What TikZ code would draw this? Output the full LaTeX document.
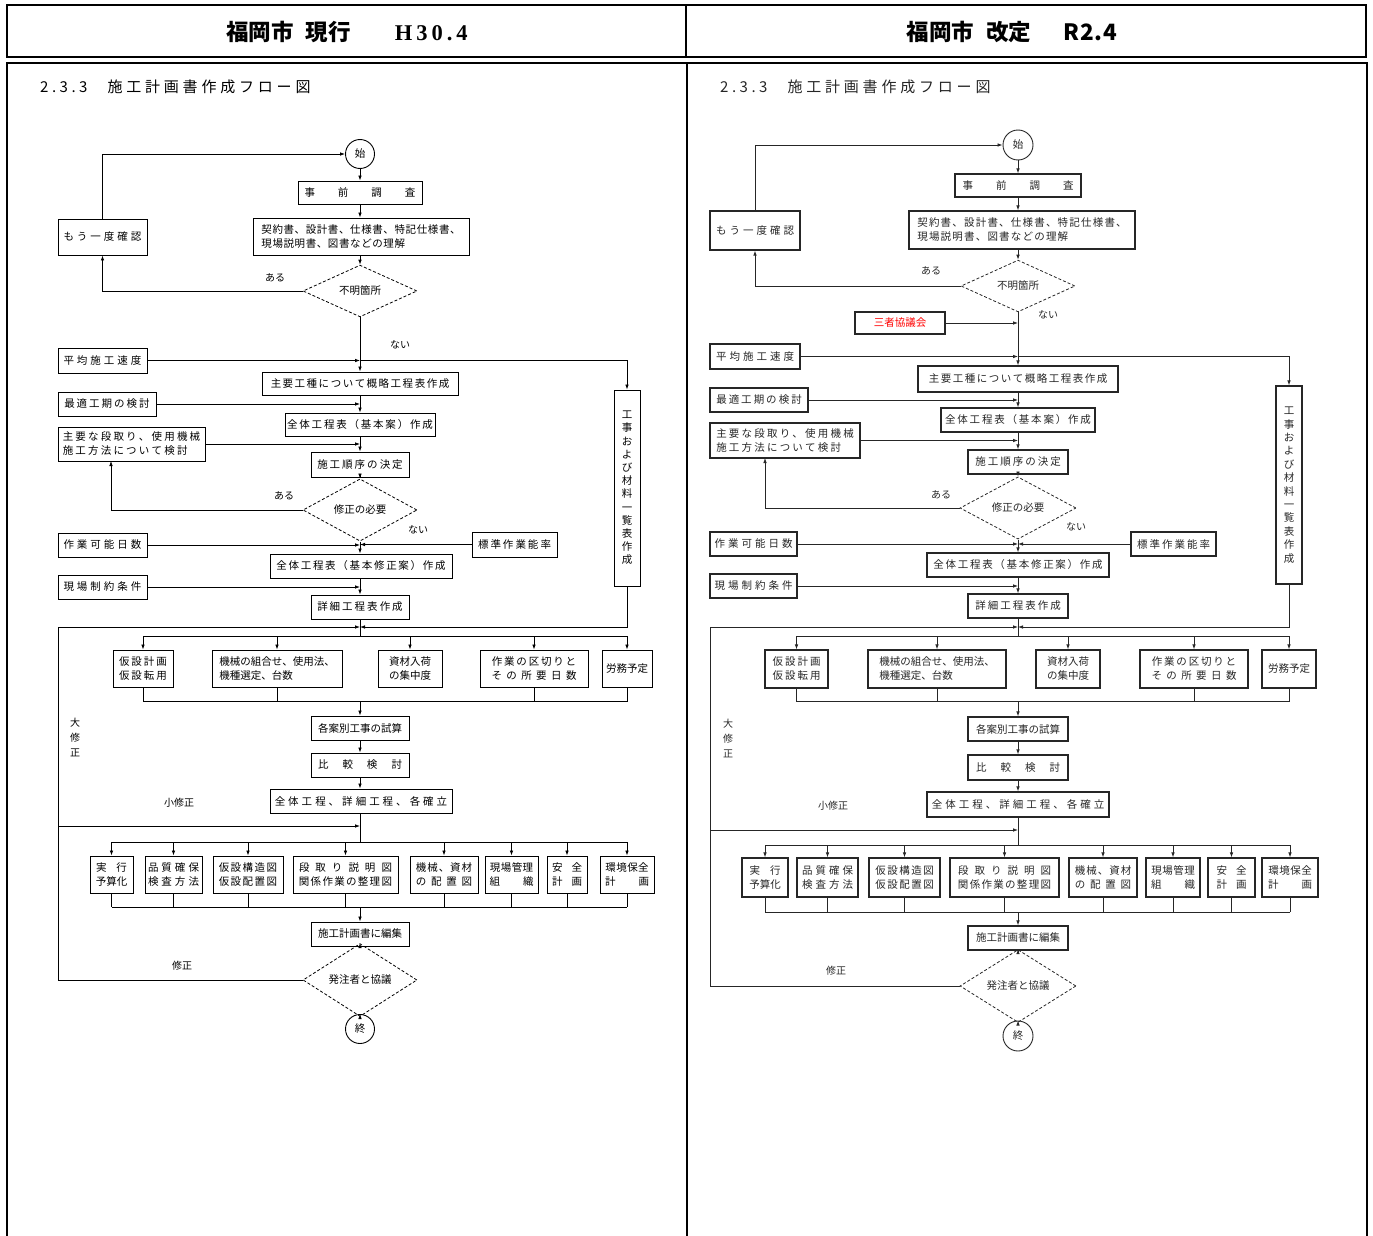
\documentclass[tikz,border=0pt]{standalone}
\usepackage{fontspec}
\newfontfamily\jp{Noto Sans CJK JP}
\newfontfamily\hdserif{Liberation Serif}
\usetikzlibrary{arrows.meta,shapes.geometric}
\makeatletter
\def\ls#1#2{\def\ls@gap{#1}\ls@aux#2\relax\unskip}
\def\ls@aux#1{\ifx\relax#1\else#1\hspace{\ls@gap}\expandafter\ls@aux\fi}
\makeatother
\newcommand\bx[7][]{\node[box,#1,minimum width={(#5-#3)*1pt},minimum height={(#6-#4)*1pt}] (#2) at ({(#3+#5)/2},{(#4+#6)/2}) {#7};}
\tikzset{
  box/.style={draw,line width=0.9pt,inner sep=0pt,align=center,font=\jp\fontsize{10.5}{14}\selectfont},
  dia/.style={draw,diamond,dash pattern=on 3pt off 2pt,line width=0.8pt,inner sep=0pt,minimum width=114pt,minimum height=44pt,font=\jp\fontsize{10.5}{13}\selectfont},
  circ/.style={draw,circle,line width=0.9pt,inner sep=0pt,minimum size=29pt,font=\jp\fontsize{10.5}{13}\selectfont},
  lab/.style={inner sep=0pt,font=\jp\fontsize{10}{15}\selectfont,align=center},
  arr/.style={-{Latex[length=5pt,width=3.6pt]},line width=0.8pt},
  ln/.style={line width=0.8pt},
  hd/.style={inner sep=0pt,font=\jp\bfseries\fontsize{22.5}{26}\selectfont},
  ttl/.style={anchor=west,inner sep=0pt,font=\jp\fontsize{15}{18}\selectfont},
  rside/.style={every node/.append style={text=black!85},box/.append style={line width=1.2pt,draw=black!85},black!85}
}
\begin{document}
\begin{tikzpicture}[x=1pt,y=-1pt]
\useasboundingbox (0,0) rectangle (1373,1236);
% frames
\draw[line width=2pt] (7,5) rectangle (1366,57);
\draw[line width=2pt] (686,5) -- (686,57);
\draw[line width=2pt] (7,1245) -- (7,63) -- (1367,63) -- (1367,1245);
\draw[line width=1.6pt] (687,63) -- (687,1245);
\node[hd] (H1) at (347,32) {福岡市\hspace{12pt}現行\hspace{44pt}{\hdserif\bfseries\ls{4pt}{H30.4}}};
\node[hd] (H2) at (1012,32) {福岡市\hspace{12pt}改定\hspace{32pt}\ls{1pt}{R2.4}};

%================ LEFT PANEL =================
\node[ttl] (Lt) at (40,87) {\ls{3.5pt}{2.3.3}\hspace{20pt}\ls{3.8pt}{施工計画書作成フロー図}};
\coordinate (Lm) at (360,0);
\node[circ] (Ls) at (360,154) {始};
\bx{Lpre}{298}{181}{422}{204}{\ls{23pt}{事前調査}}
\bx[align=left]{Lkei}{253}{218}{469}{255}{\ls{0.6pt}{契約書、設計書、仕様書、特記仕様書、}\\\ls{0.6pt}{現場説明書、図書などの理解}}
\bx{Lmou}{58}{219}{147}{255}{\ls{3pt}{もう一度確認}}
\node[dia] (Ld1) at (360,291) {不明箇所};
\bx{Lavg}{58}{348}{147}{373}{\ls{3pt}{平均施工速度}}
\bx{Lsyu}{262}{372}{458}{395}{\ls{1.5pt}{主要工種について概略工程表作成}}
\bx{Lsai}{58}{392}{156}{416}{\ls{2pt}{最適工期の検討}}
\bx{Lzen}{285}{413}{435}{436}{\ls{1.8pt}{全体工程表（基本案）作成}}
\bx[align=left]{Ldan}{58}{427}{205}{461}{\ls{2.2pt}{主要な段取り、使用機械}\\\ls{2.2pt}{施工方法について検討}}
\bx{Ljun}{311}{452}{409}{477}{\ls{2pt}{施工順序の決定}}
\node[dia,minimum height=46pt] (Ld2) at (360,510) {修正の必要};
\bx{Lsag}{58}{533}{147}{557}{\ls{3pt}{作業可能日数}}
\bx{Lhyo}{472}{532}{557}{557}{\ls{2pt}{標準作業能率}}
\bx{Lzsh}{270}{554}{452}{578}{\ls{1.7pt}{全体工程表（基本修正案）作成}}
\bx{Lgen}{58}{575}{147}{599}{\ls{3pt}{現場制約条件}}
\bx{Lsho}{311}{595}{409}{619}{\ls{2pt}{詳細工程表作成}}
\bx[font=\jp\fontsize{10.5}{13.2}\selectfont]{Lkoj}{614}{390}{640}{586}{工\\事\\お\\よ\\び\\材\\料\\一\\覧\\表\\作\\成}
\bx{La1}{113}{650}{173}{687}{\ls{2pt}{仮設計画}\\\ls{2pt}{仮設転用}}
\bx[align=left]{La2}{212}{650}{342}{687}{機械の組合せ、使用法、\\機種選定、台数}
\bx{La3}{378}{650}{442}{687}{資材入荷\\の集中度}
\bx{La4}{480}{650}{588}{687}{\ls{1.8pt}{作業の区切りと}\\\ls{4.4pt}{その所要日数}}
\bx{La5}{602}{650}{652}{687}{労務予定}
\bx{Lsis}{311}{716}{409}{740}{各案別工事の試算}
\bx{Lhik}{311}{753}{409}{777}{\ls{14pt}{比較検討}}
\bx{Lzsk}{270}{789}{452}{813}{\ls{3pt}{全体工程、詳細工程、各確立}}
\bx{Lc1}{90}{856}{133}{893}{\ls{10pt}{実行}\\予算化}
\bx{Lc2}{145}{856}{202}{893}{\ls{3pt}{品質確保}\\\ls{3pt}{検査方法}}
\bx{Lc3}{213}{856}{283}{893}{\ls{1.5pt}{仮設構造図}\\\ls{1.5pt}{仮設配置図}}
\bx{Lc4}{293}{856}{398}{893}{\ls{6pt}{段取り説明図}\\\ls{1.3pt}{関係作業の整理図}}
\bx{Lc5}{410}{856}{478}{893}{\ls{1pt}{機械、資材}\\\ls{4.8pt}{の配置図}}
\bx{Lc6}{485}{856}{538}{893}{\ls{0.5pt}{現場管理}\\\ls{23pt}{組織}}
\bx{Lc7}{547}{856}{587}{893}{\ls{9pt}{安全}\\\ls{9pt}{計画}}
\bx{Lc8}{600}{856}{654}{893}{\ls{0.5pt}{環境保全}\\\ls{23pt}{計画}}
\bx{Lhen}{311}{922}{409}{946}{施工計画書に編集}
\node[dia] (Ld3) at (360,980) {発注者と協議};
\node[circ] (Le) at (360,1029) {終};
\coordinate (LL) at (58,0);
\coordinate (Ldanin) at (111,461);
\coordinate (Lj1) at (360,627);
\coordinate (Lb1) at (360,636);
\coordinate (Lb2) at (360,701);
\coordinate (Lk) at (360,826);
\coordinate (Lb3) at (360,842);
\coordinate (Lb4) at (360,907);
% labels
\node[lab] (Ll1) at (275,278) {ある};
\node[lab] (Ll2) at (400,345) {ない};
\node[lab] (Ll3) at (284,496) {ある};
\node[lab] (Ll4) at (418,530) {ない};
\node[lab] (Ll5) at (75,737) {大\\修\\正};
\node[lab] (Ll6) at (179,803) {小修正};
\node[lab] (Ll7) at (182,966) {修正};
% connectors
\draw[arr] (Ls.south) -- (Lpre.north -| Lm);
\draw[arr] (Lpre.south -| Lm) -- (Lkei.north -| Lm);
\draw[arr] (Lkei.south -| Lm) -- (Ld1.north);
\draw[arr] (Ld1.west) -| (Lmou.south);
\draw[arr] (Lmou.north) |- (Ls.west);
\draw[arr] (Ld1.south) -- (Lsyu.north -| Lm);
\draw[arr] (Lavg.east) -- (Lavg.east -| Lm);
\draw[arr] (Lavg.east -| Lm) -- (Lavg.east -| Lkoj) -- (Lkoj.north);
\draw[arr] (Lsai.east) -- (Lsai.east -| Lm);
\draw[arr] (Lsyu.south -| Lm) -- (Lzen.north -| Lm);
\draw[arr] (Ldan.east) -- (Ldan.east -| Lm);
\draw[arr] (Lzen.south -| Lm) -- (Ljun.north -| Lm);
\draw[arr] (Ljun.south -| Lm) -- (Ld2.north);
\draw[arr] (Ld2.west) -| (Ldanin);
\draw[arr] (Lsag.east) -- (Lsag.east -| Lm);
\draw[arr] (Lhyo.west) -- (Lhyo.west -| Lm);
\draw[arr] (Ld2.south) -- (Lzsh.north -| Lm);
\draw[arr] (Lgen.east) -- (Lgen.east -| Lm);
\draw[arr] (Lzsh.south -| Lm) -- (Lsho.north -| Lm);
\draw[ln] (Lsho.south -| Lm) -- (Lb1);
\draw[arr] (Lkoj.south) -- (Lkoj.south |- Lj1) -- (Lj1);
\draw[arr] (Ld3.west) -- (Ld3.west -| LL) -- (LL |- Lj1) -- (Lj1);
\draw[arr] (LL |- Lk) -- (Lk);
\draw[ln] (La1.north |- Lb1) -- (La5.north |- Lb1);
\foreach \n in {La1,La2,La3,La4,La5} \draw[arr] (\n.north |- Lb1) -- (\n.north);
\draw[ln] (La1.south) -- (La1.south |- Lb2) -- (La5.south |- Lb2) -- (La5.south);
\draw[ln] (La2.south) -- (La2.south |- Lb2);
\draw[ln] (La4.south) -- (La4.south |- Lb2);
\draw[arr] (Lb2) -- (Lsis.north -| Lm);
\draw[arr] (Lsis.south -| Lm) -- (Lhik.north -| Lm);
\draw[arr] (Lhik.south -| Lm) -- (Lzsk.north -| Lm);
\draw[ln] (Lzsk.south -| Lm) -- (Lb3);
\draw[ln] (Lc1.north |- Lb3) -- (Lc8.north |- Lb3);
\foreach \n in {Lc1,Lc2,Lc3,Lc4,Lc5,Lc6,Lc7,Lc8} {\draw[arr] (\n.north |- Lb3) -- (\n.north); \draw[ln] (\n.south) -- (\n.south |- Lb4);}
\draw[ln] (Lc1.south |- Lb4) -- (Lc8.south |- Lb4);
\draw[arr] (Lb4) -- (Lhen.north -| Lm);
\draw[arr] (Lhen.south -| Lm) -- (Ld3.north);
\draw[arr] (Ld3.south) -- (Le.north);

%================ RIGHT PANEL =================
\begin{scope}[rside]
\node[ttl] (Rt) at (720,87) {\ls{3.5pt}{2.3.3}\hspace{20pt}\ls{3.8pt}{施工計画書作成フロー図}};
\coordinate (Rm) at (1018,0);
\node[circ,minimum size=30pt] (Rs) at (1018,145) {始};
\bx{Rpre}{955}{174}{1081}{197}{\ls{23pt}{事前調査}}
\bx[align=left]{Rkei}{909}{211}{1135}{249}{\ls{1.2pt}{契約書、設計書、仕様書、特記仕様書、}\\\ls{1.2pt}{現場説明書、図書などの理解}}
\bx{Rmou}{710}{211}{800}{250}{\ls{3pt}{もう一度確認}}
\node[dia] (Rd1) at (1018,286) {不明箇所};
\bx[text=red]{Rsan}{855}{312}{945}{334}{三者協議会}
\bx{Ravg}{710}{344}{800}{369}{\ls{3pt}{平均施工速度}}
\bx{Rsyu}{918}{366}{1118}{392}{\ls{1.5pt}{主要工種について概略工程表作成}}
\bx{Rsai}{710}{388}{808}{412}{\ls{2pt}{最適工期の検討}}
\bx{Rzen}{941}{408}{1095}{432}{\ls{1.8pt}{全体工程表（基本案）作成}}
\bx[align=left]{Rdan}{710}{423}{860}{458}{\ls{2.2pt}{主要な段取り、使用機械}\\\ls{2.2pt}{施工方法について検討}}
\bx{Rjun}{968}{450}{1068}{474}{\ls{2pt}{施工順序の決定}}
\node[dia,minimum width=116pt,minimum height=48pt] (Rd2) at (1018,508) {修正の必要};
\bx{Rsag}{710}{532}{797}{556}{\ls{3pt}{作業可能日数}}
\bx{Rhyo}{1131}{532}{1216}{556}{\ls{2pt}{標準作業能率}}
\bx{Rzsh}{927}{553}{1109}{577}{\ls{1.7pt}{全体工程表（基本修正案）作成}}
\bx{Rgen}{710}{574}{797}{598}{\ls{3pt}{現場制約条件}}
\bx{Rsho}{968}{594}{1068}{618}{\ls{2pt}{詳細工程表作成}}
\bx[font=\jp\fontsize{10.5}{13.4}\selectfont]{Rkoj}{1276}{386}{1302}{584}{工\\事\\お\\よ\\び\\材\\料\\一\\覧\\表\\作\\成}
\bx{Ra1}{765}{650}{828}{688}{\ls{2pt}{仮設計画}\\\ls{2pt}{仮設転用}}
\bx[align=left]{Ra2}{868}{650}{1006}{688}{機械の組合せ、使用法、\\機種選定、台数}
\bx{Ra3}{1036}{650}{1100}{688}{資材入荷\\の集中度}
\bx{Ra4}{1140}{650}{1248}{688}{\ls{1.8pt}{作業の区切りと}\\\ls{4.4pt}{その所要日数}}
\bx{Ra5}{1262}{650}{1316}{688}{労務予定}
\bx{Rsis}{968}{717}{1068}{741}{各案別工事の試算}
\bx{Rhik}{968}{755}{1068}{780}{\ls{14pt}{比較検討}}
\bx{Rzsk}{927}{792}{1109}{817}{\ls{3pt}{全体工程、詳細工程、各確立}}
\bx{Rc1}{742}{858}{788}{897}{\ls{10pt}{実行}\\予算化}
\bx{Rc2}{797}{858}{858}{897}{\ls{3pt}{品質確保}\\\ls{3pt}{検査方法}}
\bx{Rc3}{869}{858}{940}{897}{\ls{1.5pt}{仮設構造図}\\\ls{1.5pt}{仮設配置図}}
\bx{Rc4}{950}{858}{1059}{897}{\ls{6pt}{段取り説明図}\\\ls{1.3pt}{関係作業の整理図}}
\bx{Rc5}{1069}{858}{1137}{897}{\ls{1pt}{機械、資材}\\\ls{4.8pt}{の配置図}}
\bx{Rc6}{1146}{858}{1200}{897}{\ls{0.5pt}{現場管理}\\\ls{23pt}{組織}}
\bx{Rc7}{1208}{858}{1255}{897}{\ls{9pt}{安全}\\\ls{9pt}{計画}}
\bx{Rc8}{1262}{858}{1318}{897}{\ls{0.5pt}{環境保全}\\\ls{23pt}{計画}}
\bx{Rhen}{968}{926}{1068}{950}{施工計画書に編集}
\node[dia,minimum width=116pt] (Rd3) at (1018,986) {発注者と協議};
\node[circ,minimum size=30pt] (Re) at (1018,1036) {終};
\coordinate (RL) at (710,0);
\coordinate (Rdanin) at (765,458);
\coordinate (Rj1) at (1018,627);
\coordinate (Rb1) at (1018,636);
\coordinate (Rb2) at (1018,701);
\coordinate (Rk) at (1018,830);
\coordinate (Rb3) at (1018,845);
\coordinate (Rb4) at (1018,912);
\node[lab] (Rl1) at (931,271) {ある};
\node[lab] (Rl2) at (1048,315) {ない};
\node[lab] (Rl3) at (941,495) {ある};
\node[lab] (Rl4) at (1076,527) {ない};
\node[lab] (Rl5) at (728,738) {大\\修\\正};
\node[lab] (Rl6) at (833,806) {小修正};
\node[lab] (Rl7) at (836,971) {修正};
\draw[arr] (Rs.south) -- (Rpre.north -| Rm);
\draw[arr] (Rpre.south -| Rm) -- (Rkei.north -| Rm);
\draw[arr] (Rkei.south -| Rm) -- (Rd1.north);
\draw[arr] (Rd1.west) -| (Rmou.south);
\draw[arr] (Rmou.north) |- (Rs.west);
\draw[arr] (Rd1.south) -- (Rsyu.north -| Rm);
\draw[arr] (Rsan.east) -- (Rsan.east -| Rm);
\draw[arr] (Ravg.east) -- (Ravg.east -| Rm);
\draw[arr] (Ravg.east -| Rm) -- (Ravg.east -| Rkoj) -- (Rkoj.north);
\draw[arr] (Rsai.east) -- (Rsai.east -| Rm);
\draw[arr] (Rsyu.south -| Rm) -- (Rzen.north -| Rm);
\draw[arr] (Rdan.east) -- (Rdan.east -| Rm);
\draw[arr] (Rzen.south -| Rm) -- (Rjun.north -| Rm);
\draw[arr] (Rjun.south -| Rm) -- (Rd2.north);
\draw[arr] (Rd2.west) -| (Rdanin);
\draw[arr] (Rsag.east) -- (Rsag.east -| Rm);
\draw[arr] (Rhyo.west) -- (Rhyo.west -| Rm);
\draw[arr] (Rd2.south) -- (Rzsh.north -| Rm);
\draw[arr] (Rgen.east) -- (Rgen.east -| Rm);
\draw[arr] (Rzsh.south -| Rm) -- (Rsho.north -| Rm);
\draw[ln] (Rsho.south -| Rm) -- (Rb1);
\draw[arr] (Rkoj.south) -- (Rkoj.south |- Rj1) -- (Rj1);
\draw[arr] (Rd3.west) -- (Rd3.west -| RL) -- (RL |- Rj1) -- (Rj1);
\draw[arr] (RL |- Rk) -- (Rk);
\draw[ln] (Ra1.north |- Rb1) -- (Ra5.north |- Rb1);
\foreach \n in {Ra1,Ra2,Ra3,Ra4,Ra5} \draw[arr] (\n.north |- Rb1) -- (\n.north);
\draw[ln] (Ra1.south) -- (Ra1.south |- Rb2) -- (Ra5.south |- Rb2) -- (Ra5.south);
\draw[ln] (Ra2.south) -- (Ra2.south |- Rb2);
\draw[ln] (Ra4.south) -- (Ra4.south |- Rb2);
\draw[arr] (Rb2) -- (Rsis.north -| Rm);
\draw[arr] (Rsis.south -| Rm) -- (Rhik.north -| Rm);
\draw[arr] (Rhik.south -| Rm) -- (Rzsk.north -| Rm);
\draw[ln] (Rzsk.south -| Rm) -- (Rb3);
\draw[ln] (Rc1.north |- Rb3) -- (Rc8.north |- Rb3);
\foreach \n in {Rc1,Rc2,Rc3,Rc4,Rc5,Rc6,Rc7,Rc8} {\draw[arr] (\n.north |- Rb3) -- (\n.north); \draw[ln] (\n.south) -- (\n.south |- Rb4);}
\draw[ln] (Rc1.south |- Rb4) -- (Rc8.south |- Rb4);
\draw[arr] (Rb4) -- (Rhen.north -| Rm);
\draw[arr] (Rhen.south -| Rm) -- (Rd3.north);
\draw[arr] (Rd3.south) -- (Re.north);
\end{scope}
\end{tikzpicture}
\end{document}
